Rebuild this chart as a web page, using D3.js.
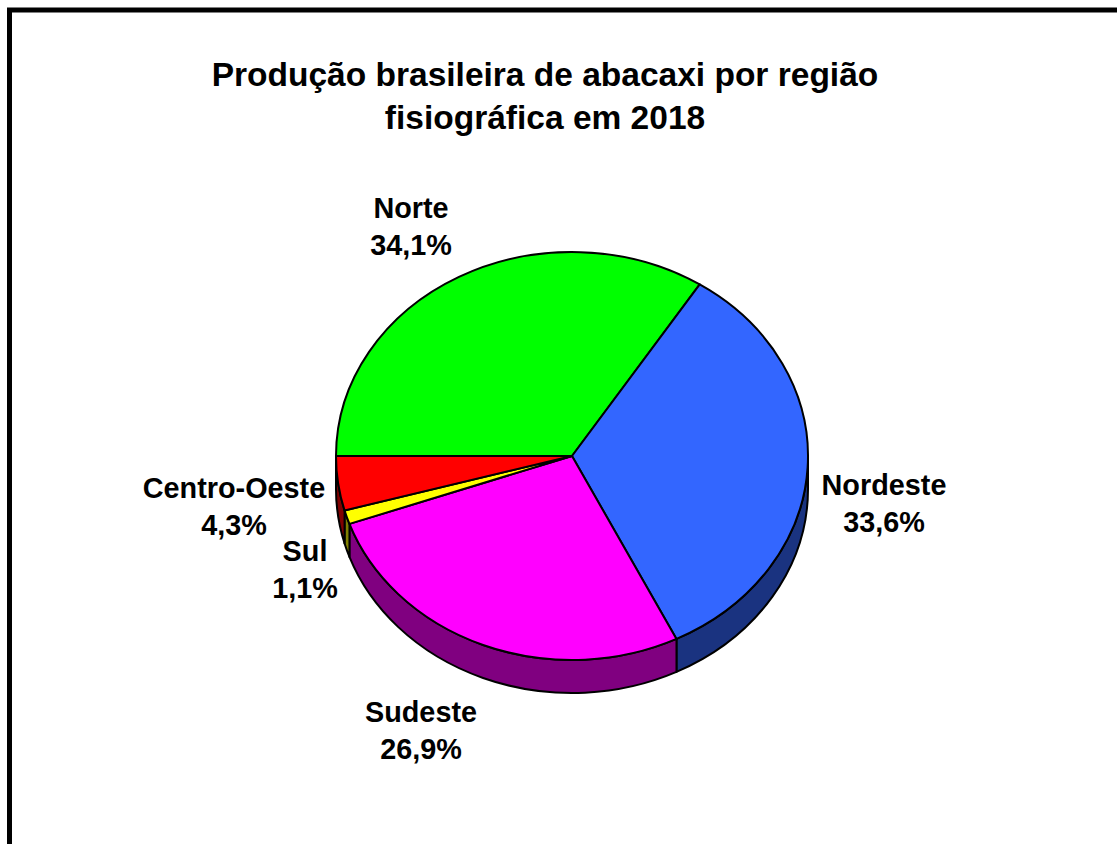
<!DOCTYPE html>
<html>
<head>
<meta charset="utf-8">
<script src="https://cdn.jsdelivr.net/npm/d3@7"></script>
<style>
  html, body { margin: 0; padding: 0; background: #fff; }
  svg { display: block; }
  text { font-family: "Liberation Sans", Arial, sans-serif; font-weight: bold; fill: #000; }
</style>
</head>
<body>
<svg id="chart" width="1117" height="844"></svg>
<script>
// Regional shares of Brazilian pineapple production, 2018
const regions = ["Norte", "Nordeste", "Sudeste", "Sul", "Centro-Oeste"];
const shares = [34.1, 33.6, 26.9, 1.1, 4.3];
const shareLabels = ["34,1%", "33,6%", "26,9%", "1,1%", "4,3%"];
const topColors = ["#00ff00", "#3366ff", "#ff00ff", "#ffff00", "#ff0000"];
const sideColors = ["#008000", "#1a3380", "#800080", "#808000", "#800000"];
const titleLines = ["Produção brasileira de abacaxi por região", "fisiográfica em 2018"];

// label anchor (centre x, first baseline) for each region
const labelPos = [[411, 218], [884, 495], [421, 722], [305, 561], [234, 498]];

const svg = d3.select("#chart");

// chart frame (right and bottom edges run past the page)
svg.append("rect")
  .attr("x", 9.5).attr("y", 10)
  .attr("width", 1300).attr("height", 1100)
  .attr("fill", "#fff").attr("stroke", "#000").attr("stroke-width", 5);

// title
svg.append("g").selectAll("text").data(titleLines).join("text")
  .attr("x", 545)
  .attr("y", (d, i) => 86 + i * 43)
  .attr("text-anchor", "middle")
  .attr("font-size", 33.5)
  .text(d => d);

// tilted pie geometry
const cx = 572, cy = 456, rx = 236, ry = 204, depth = 33;
const pt = (a, dy = 0) => [cx + rx * Math.sin(a), cy - ry * Math.cos(a) + dy];

const pie = d3.pie().sort(null).value(d => d)
  .startAngle(-Math.PI / 2).endAngle(3 * Math.PI / 2);
const arcs = pie(shares);

// outer walls: only the front half (angles PI/2 .. 3PI/2) is visible
const walls = svg.append("g");
arcs.forEach((a, i) => {
  const b0 = Math.max(a.startAngle, Math.PI / 2);
  const b1 = Math.min(a.endAngle, 3 * Math.PI / 2);
  if (b1 <= b0) return;
  const p0 = pt(b0), p1 = pt(b1), q1 = pt(b1, depth), q0 = pt(b0, depth);
  const large = (b1 - b0) > Math.PI ? 1 : 0;
  const d = `M${p0}A${rx},${ry} 0 ${large} 1 ${p1}L${q1}A${rx},${ry} 0 ${large} 0 ${q0}Z`;
  walls.append("path").attr("d", d)
    .attr("fill", sideColors[i])
    .attr("stroke", "#000").attr("stroke-width", 2).attr("stroke-linejoin", "round");
});

// top faces
const tops = svg.append("g");
arcs.forEach((a, i) => {
  const p0 = pt(a.startAngle), p1 = pt(a.endAngle);
  const large = (a.endAngle - a.startAngle) > Math.PI ? 1 : 0;
  const d = `M${cx},${cy}L${p0}A${rx},${ry} 0 ${large} 1 ${p1}Z`;
  tops.append("path").attr("d", d)
    .attr("fill", topColors[i])
    .attr("stroke", "#000").attr("stroke-width", 2).attr("stroke-linejoin", "round");
});

// category / percentage labels
const labels = svg.append("g");
regions.forEach((r, i) => {
  const [x, y] = labelPos[i];
  const t = labels.append("text")
    .attr("x", x).attr("y", y)
    .attr("text-anchor", "middle")
    .attr("font-size", 28.8);
  t.append("tspan").attr("x", x).text(r);
  t.append("tspan").attr("x", x).attr("dy", 37).text(shareLabels[i]);
});
</script>
</body>
</html>
